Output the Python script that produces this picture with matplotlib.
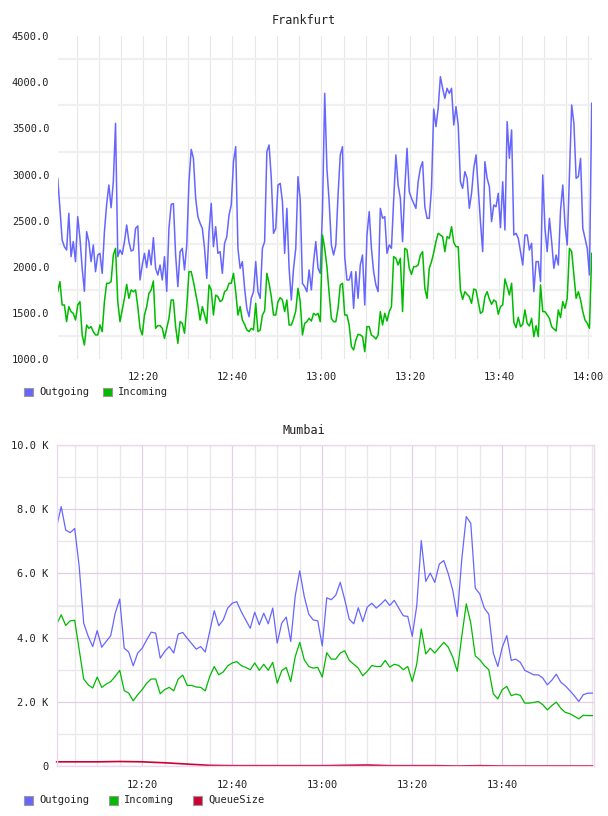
import pandas as pd
import numpy as np
import matplotlib
matplotlib.use('Agg')
import matplotlib.pyplot as plt
import matplotlib.dates as mdates
from matplotlib.patches import Rectangle
from matplotlib.ticker import FixedLocator, FuncFormatter

# Frankfurt: 30 s samples from 12:00:45 to 14:00:45
fra_outgoing = [
    2960, 2634, 2291, 2218, 2182, 2580, 2110, 2273, 2056, 2544, 2309, 1984, 1734, 2381, 2273, 2056,
    2237, 1947, 2128, 2146, 1929, 2381, 2678, 2887, 2641, 2923, 3556, 2110, 2182, 2135, 2273, 2453,
    2273, 2171, 2182, 2417, 2443, 1857, 2020, 2146, 1991, 2182, 2020, 2316, 1984, 1911, 2020, 1857,
    2110, 1734, 2417, 2678, 2685, 2128, 1785, 2164, 2200, 1966, 2237, 2923, 3274, 3176, 2743, 2544,
    2472, 2417, 2200, 1875, 2381, 2688, 2218, 2435, 2146, 2164, 1929, 2255, 2327, 2562, 2670, 3140,
    3303, 2200, 1984, 2056, 1767, 1550, 1459, 1658, 1730, 2056, 1730, 1658, 2200, 2273, 3249, 3321,
    2960, 2363, 2417, 2887, 2905, 2707, 2146, 2634, 1984, 1640, 1984, 2200, 2978, 2725, 1821, 1785,
    1730, 1966, 1749, 2056, 2273, 1984, 1929, 2598, 3881, 3068, 2707, 2237, 2128, 2237, 2779, 3213,
    3303, 2110, 1857, 1857, 1947, 1550, 1947, 1658, 2020, 2128, 1585, 2345, 2598, 2200, 1947, 1803,
    1730, 2634, 2526, 2544, 2146, 2237, 2200, 2725, 3213, 2887, 2743, 2273, 2851, 3285, 2815, 2743,
    2688, 2634, 2923, 3068, 3140, 2652, 2526, 2526, 2851, 3711, 3520, 3719, 4062, 3936, 3827, 3936,
    3881, 3936, 3538, 3737, 3538, 2923, 2851, 3032, 2960, 2634, 2797, 3068, 3213, 2851, 2490, 2164,
    3140, 2960, 2869, 2490, 2670, 2652, 2797, 2425, 2923, 2399, 3574, 3176, 3484, 2345, 2363, 2309,
    2164, 2020, 2345, 2345, 2182, 2255, 1730, 2056, 2056, 1839, 2996, 2417, 2164, 2526, 2273, 1984,
    2128, 2020, 2616, 2887, 2453, 2237, 2996, 3755, 3556, 2960, 2978, 3176, 2417, 2309, 2200, 1911,
    3773,
]
fra_incoming = [
    1730, 1839, 1586, 1586, 1405, 1568, 1514, 1495, 1423, 1586, 1622, 1261, 1152, 1369, 1333, 1351,
    1297, 1261, 1261, 1369, 1297, 1622, 1821, 1821, 1839, 2128, 2200, 1622, 1405, 1532, 1658, 1810,
    1658, 1749, 1730, 1749, 1568, 1333, 1261, 1477, 1568, 1712, 1749, 1846, 1333, 1362, 1362, 1333,
    1224, 1333, 1441, 1640, 1640, 1351, 1170, 1405, 1387, 1279, 1568, 1947, 1947, 1839, 1712, 1586,
    1423, 1568, 1477, 1387, 1803, 1749, 1477, 1694, 1676, 1622, 1640, 1730, 1749, 1821, 1821, 1929,
    1730, 1477, 1568, 1423, 1376, 1315, 1297, 1333, 1315, 1604, 1297, 1315, 1477, 1521, 1929, 1821,
    1676, 1477, 1477, 1622, 1665, 1640, 1514, 1640, 1369, 1369, 1434, 1521, 1767, 1622, 1261, 1387,
    1405, 1441, 1412, 1495, 1477, 1495, 1405, 2345, 2200, 2002, 1712, 1441, 1405, 1405, 1550, 1803,
    1821, 1477, 1477, 1369, 1134, 1098, 1206, 1268, 1261, 1243, 1080, 1351, 1351, 1261, 1243, 1217,
    1261, 1514, 1369, 1495, 1412, 1514, 1568, 2110, 2092, 2020, 2092, 1514, 2200, 2182, 1984, 1918,
    2002, 2002, 2020, 2128, 2164, 1767, 1658, 1984, 2056, 2153, 2273, 2363, 2345, 2327, 2164, 2327,
    2309, 2435, 2265, 2218, 2218, 1749, 1647, 1730, 1702, 1676, 1604, 1759, 1749, 1622, 1495, 1514,
    1676, 1730, 1651, 1593, 1640, 1622, 1485, 1568, 1586, 1868, 1785, 1694, 1821, 1398, 1340, 1452,
    1351, 1376, 1532, 1387, 1358, 1441, 1243, 1362, 1243, 1803, 1514, 1514, 1477, 1441, 1351, 1326,
    1304, 1532, 1449, 1622, 1550, 1658, 2200, 2164, 1911, 1658, 1730, 1640, 1514, 1423, 1387, 1333,
    2146,
]

# Mumbai: 1 min samples from 12:01 to 14:00, in thousands
mum_outgoing = [
    7.46, 8.08, 7.35, 7.27, 7.40, 6.21, 4.45, 4.04, 3.72, 4.22, 3.70, 3.88, 4.06, 4.76, 5.20, 3.67,
    3.55, 3.12, 3.52, 3.67, 3.93, 4.17, 4.14, 3.36, 3.57, 3.72, 3.52, 4.11, 4.16, 3.98, 3.81, 3.64,
    3.72, 3.55, 4.19, 4.84, 4.37, 4.55, 4.92, 5.07, 5.12, 4.81, 4.55, 4.29, 4.79, 4.40, 4.76, 4.43,
    4.92, 3.83, 4.45, 4.64, 3.88, 5.30, 6.08, 5.28, 4.73, 4.55, 4.52, 3.74, 5.24, 5.18, 5.32, 5.72,
    5.18, 4.57, 4.43, 4.93, 4.50, 4.95, 5.07, 4.92, 5.04, 5.18, 5.00, 5.16, 4.92, 4.68, 4.66, 4.04,
    5.00, 7.02, 5.75, 6.01, 5.72, 6.29, 6.40, 5.99, 5.47, 4.66, 6.44, 7.77, 7.56, 5.54, 5.36, 4.92,
    4.73, 3.52, 3.10, 3.70, 4.06, 3.29, 3.33, 3.23, 2.98, 2.91, 2.84, 2.84, 2.74, 2.53, 2.67, 2.86,
    2.61, 2.50, 2.35, 2.19, 2.01, 2.22, 2.27, 2.27,
]
mum_incoming = [
    4.42, 4.71, 4.38, 4.52, 4.54, 3.62, 2.71, 2.53, 2.43, 2.77, 2.45, 2.55, 2.63, 2.79, 2.98, 2.35,
    2.27, 2.03, 2.22, 2.38, 2.58, 2.71, 2.71, 2.25, 2.38, 2.45, 2.34, 2.71, 2.83, 2.51, 2.51, 2.46,
    2.45, 2.34, 2.79, 3.10, 2.84, 2.93, 3.12, 3.21, 3.25, 3.13, 3.07, 3.00, 3.21, 2.98, 3.17, 2.98,
    3.23, 2.58, 2.97, 3.07, 2.63, 3.41, 3.85, 3.31, 3.10, 3.05, 3.07, 2.77, 3.53, 3.33, 3.33, 3.52,
    3.59, 3.29, 3.17, 3.05, 2.81, 2.95, 3.13, 3.10, 3.10, 3.29, 3.08, 3.17, 3.13, 3.00, 3.10, 2.63,
    3.18, 4.27, 3.49, 3.67, 3.52, 3.69, 3.85, 3.70, 3.39, 2.95, 4.04, 5.05, 4.45, 3.43, 3.31, 3.13,
    3.00, 2.25, 2.09, 2.38, 2.48, 2.19, 2.24, 2.20, 1.96, 1.96, 1.98, 2.01, 1.91, 1.75, 1.88, 1.99,
    1.80, 1.67, 1.63, 1.55, 1.47, 1.58, 1.57, 1.57,
]
queue_times = ['12:01', '12:05', '12:10', '12:15', '12:20', '12:25', '12:30', '12:35', '12:40',
               '12:45', '12:50', '12:55', '13:00', '13:05', '13:10', '13:15', '13:20', '13:25',
               '13:30', '13:35', '13:40', '13:45', '13:50', '13:55', '14:00']
queue_size = [0.13, 0.13, 0.13, 0.14, 0.13, 0.10, 0.06, 0.02, 0.01, 0.01, 0.01, 0.01, 0.01,
              0.02, 0.03, 0.01, 0.01, 0.01, 0.00, 0.01, 0.00, 0.00, 0.00, 0.00, 0.00]
mumbai_labels = ['12:20', '12:40', '13:00', '13:20', '13:40']

day = '2024-01-01 '
fra_t = pd.date_range(day + '12:00:45', periods=len(fra_outgoing), freq='30s')
mum_t = pd.date_range(day + '12:01', periods=len(mum_outgoing), freq='1min')
q_t = pd.to_datetime([day + s for s in queue_times])
mum_ticks = mdates.date2num(pd.to_datetime([day + s for s in mumbai_labels]))

BLUE = '#6666ff'
GREEN = '#00bb00'
RED = '#cc0033'
FONT = 'DejaVu Sans Mono'

plt.rcParams['font.family'] = FONT
plt.rcParams['font.size'] = 7.5

W, H = 608, 816
fig = plt.figure(figsize=(W / 100, H / 100), dpi=100)


def box(left, top, right, bottom):
    return [left / W, 1 - bottom / H, (right - left) / W, (bottom - top) / H]


fmt = mdates.DateFormatter('%H:%M')

# --- Frankfurt
ax = fig.add_axes(box(57.7, 36.3, 591.7, 359))
ax.plot(fra_t, fra_outgoing, color=BLUE, lw=1.1)
ax.plot(fra_t, fra_incoming, color=GREEN, lw=1.1)
ax.set_xlim(fra_t[0], fra_t[-1])
ax.set_ylim(1000, 4500)
ax.yaxis.set_major_locator(FixedLocator(np.arange(1000, 4501, 500)))
ax.yaxis.set_major_formatter(FuncFormatter(lambda v, p: f'{v:.1f}'))
ax.yaxis.set_minor_locator(FixedLocator(np.arange(1250, 4500, 500)))
ax.xaxis.set_major_locator(mdates.MinuteLocator(byminute=[0, 20, 40]))
ax.xaxis.set_minor_locator(mdates.MinuteLocator(byminute=range(0, 60, 5)))
ax.xaxis.set_major_formatter(fmt)
ax.grid(False)
ax.grid(which='minor', axis='y', color='#f0f0f0', lw=1.6)
ax.grid(which='both', axis='x', color='#e8e8e8', lw=0.8)
for s in ax.spines.values():
    s.set_visible(False)
ax.tick_params(which='both', length=0, colors='#222222')
ax.tick_params(axis='x', pad=9)
ax.tick_params(axis='y', pad=6)
ax.set_axisbelow(True)
fig.text(304 / W, 1 - 20 / H, 'Frankfurt', ha='center', va='center', fontsize=8.5, color='#222222')

# --- Mumbai
bx = fig.add_axes(box(56.7, 445, 593.8, 766))
bx.plot(mum_t, mum_outgoing, color=BLUE, lw=0.9)
bx.plot(mum_t, mum_incoming, color=GREEN, lw=0.9)
bx.plot(q_t, queue_size, color=RED, lw=1.2, clip_on=False)
bx.set_xlim(mum_t[0], pd.Timestamp(day + '14:00:20'))
bx.set_ylim(0, 10)
bx.yaxis.set_major_locator(FixedLocator(np.arange(0, 11, 2)))
bx.yaxis.set_major_formatter(FuncFormatter(lambda v, p: '0' if v == 0 else f'{v:.1f} K'))
bx.yaxis.set_minor_locator(FixedLocator(np.arange(1, 10, 2)))
bx.xaxis.set_major_locator(FixedLocator(mum_ticks))
bx.xaxis.set_minor_locator(mdates.MinuteLocator(byminute=range(0, 60, 5)))
bx.xaxis.set_major_formatter(fmt)
bx.grid(which='major', color='#e2d0e2', lw=0.9)
bx.grid(which='minor', color='#ebe6eb', lw=0.9)
bx.axhline(5, color='#f0f0f0', lw=1.6, zorder=0.5)
for s in bx.spines.values():
    s.set_color('#ecd8ec')
    s.set_linewidth(1.0)
bx.tick_params(which='both', length=0, colors='#222222')
bx.tick_params(axis='x', pad=10)
bx.tick_params(axis='y', pad=6)
bx.set_axisbelow(True)
fig.text(304 / W, 1 - 430 / H, 'Mumbai', ha='center', va='center', fontsize=8.5, color='#222222')


# --- legends
def legend(y, entries):
    for x, label, color in entries:
        fig.add_artist(Rectangle((x / W, 1 - (y + 4.5) / H), 9 / W, 9 / H,
                                 transform=fig.transFigure, facecolor=color,
                                 edgecolor='#999999', lw=0.8))
        fig.text((x + 15) / W, 1 - y / H, label, ha='left', va='center', fontsize=7.5, color='#222222')


legend(392, [(24, 'Outgoing', BLUE), (103, 'Incoming', GREEN)])
legend(800, [(24, 'Outgoing', BLUE), (109, 'Incoming', GREEN), (193, 'QueueSize', RED)])

fig.savefig('out.png', dpi=100)
